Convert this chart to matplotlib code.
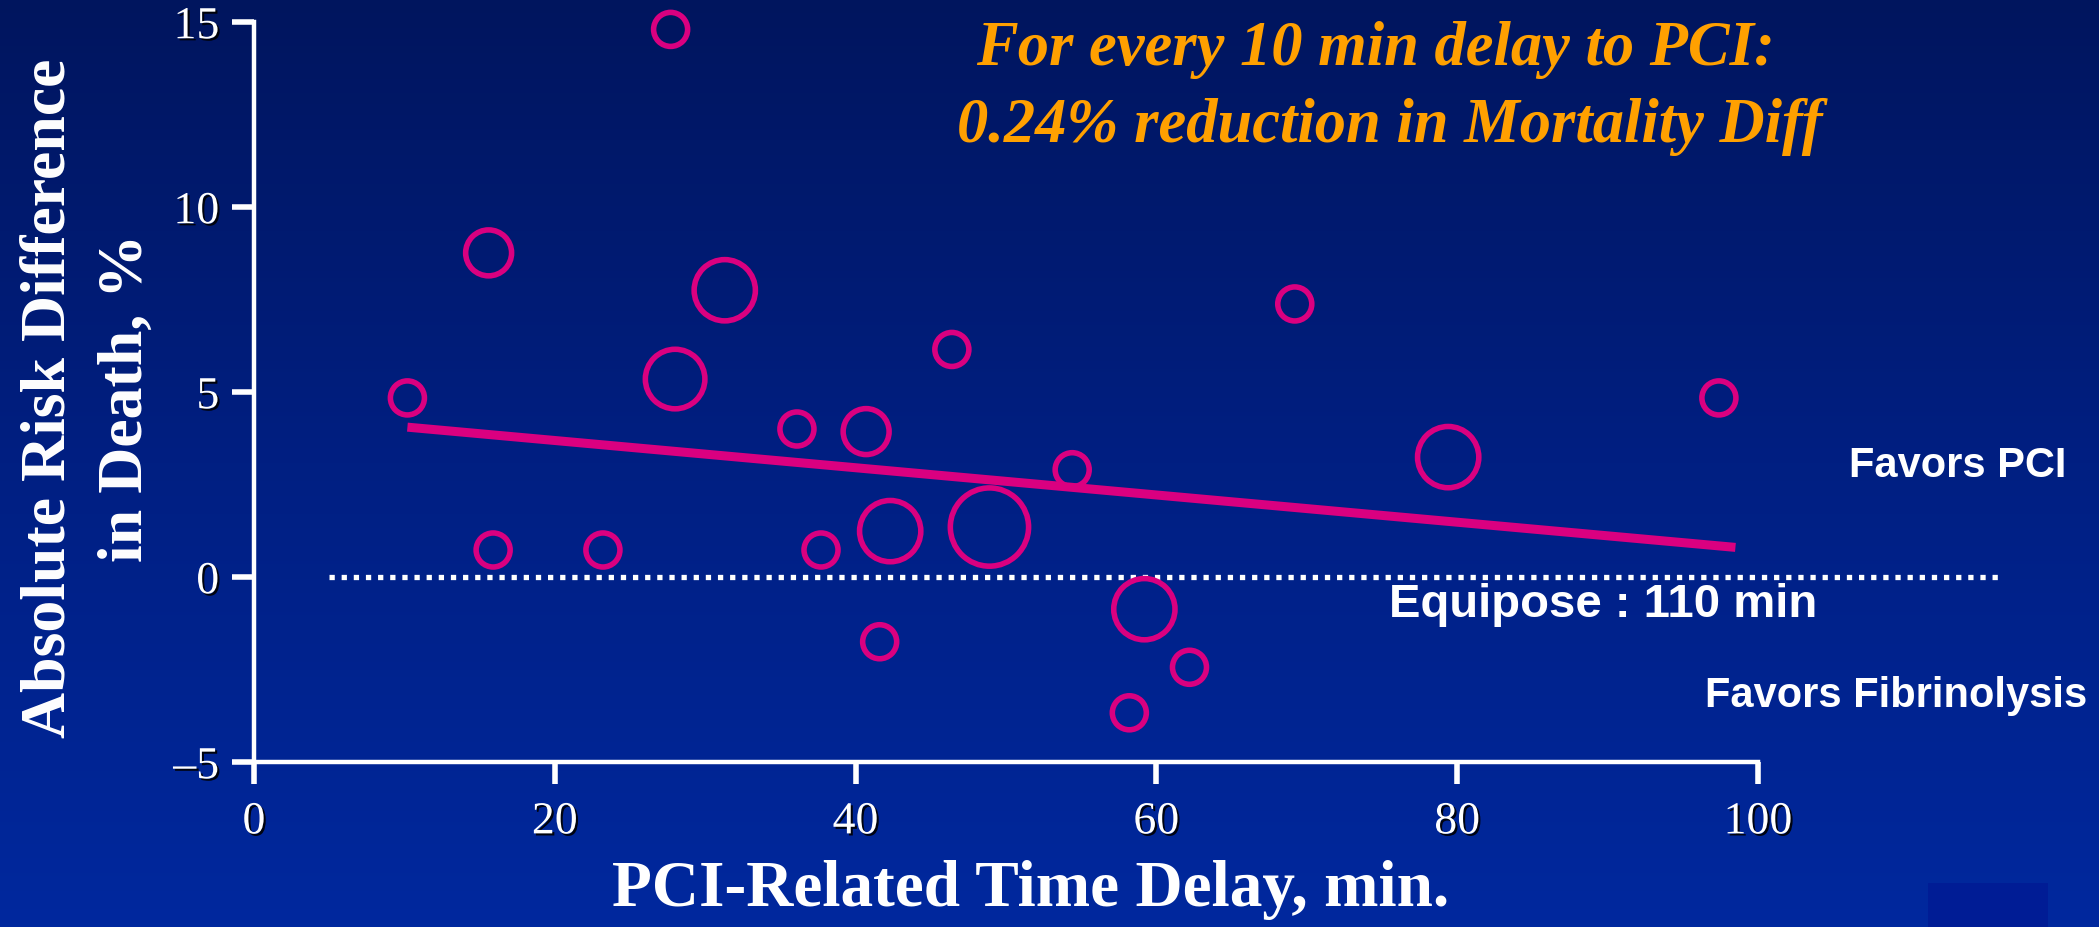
import matplotlib.pyplot as plt
import matplotlib.patheffects as pe
import numpy as np
from matplotlib.colors import LinearSegmentedColormap
from matplotlib.patches import Rectangle

# study-level data
delay_min = [10.2, 15.6, 15.9, 23.2, 27.7, 28.0, 31.3, 36.1, 37.7, 40.7, 41.6,
             42.3, 46.4, 48.9, 54.4, 58.2, 59.2, 62.2, 69.2, 79.4, 97.4]
risk_diff = [4.84, 8.76, 0.73, 0.73, 14.8, 5.35, 7.75, 4.0, 0.73, 3.93, -1.75,
             1.24, 6.15, 1.35, 2.9, -3.67, -0.87, -2.44, 7.38, 3.24, 4.84]
study_weight = [1.0, 1.35, 1.0, 1.0, 1.0, 1.75, 1.8, 1.0, 1.0, 1.35, 1.0,
                1.8, 1.0, 2.3, 1.0, 1.0, 1.8, 1.0, 1.0, 1.8, 1.0]

fit_x = [10.2, 98.5]
fit_y = [4.05, 0.8]
equipoise_x = [5.0, 116.0]
equipoise_y = [0.0, 0.0]

x_ticks = [0, 20, 40, 60, 80, 100]
y_ticks = [-5, 0, 5, 10, 15]
y_tick_labels = ["\u20135", "0", "5", "10", "15"]

MAGENTA = "#DA0080"
ORANGE = "#FFA000"
SERIF = ["Liberation Serif", "DejaVu Serif"]
SANS = ["Liberation Sans", "DejaVu Sans"]

fig = plt.figure(figsize=(20.99, 9.28), dpi=100)

# slide background: dark navy at the top fading to brighter blue
bg = fig.add_axes([0, 0, 1, 1], zorder=-10)
grad = np.linspace(0, 1, 256).reshape(-1, 1)
cmap = LinearSegmentedColormap.from_list("slide", ["#00155E", "#001F82", "#00289E"])
bg.imshow(grad, aspect="auto", cmap=cmap, extent=[0, 1, 0, 1], origin="upper")
bg.add_patch(Rectangle((1928 / 2099, 0), 120 / 2099, 44 / 928,
                       facecolor="#001C95", edgecolor="none"))
bg.axis("off")

ax = fig.add_axes([254 / 2099, 165 / 928, 1504 / 2099, 740 / 928])
ax.patch.set_alpha(0)

ax.plot(equipoise_x, equipoise_y, color="white", lw=3.8,
        linestyle=(0, (1.0, 1.3)), dash_capstyle="butt", clip_on=False, zorder=2)
ax.plot(fit_x, fit_y, color=MAGENTA, lw=6.5, solid_capstyle="butt", zorder=3)

sizes = [(24.5 * w) ** 2 for w in study_weight]
ax.scatter(delay_min, risk_diff, s=sizes, facecolors="none",
           edgecolors=MAGENTA, linewidths=4, clip_on=False, zorder=4)

ax.set_xlim(0, 100)
ax.set_ylim(-5, 15)
for side in ["top", "right"]:
    ax.spines[side].set_visible(False)
for side in ["left", "bottom"]:
    ax.spines[side].set_color("white")
    ax.spines[side].set_linewidth(3.2)

shadow = [pe.withSimplePatchShadow(offset=(1.5, -1.5), shadow_rgbFace="black", alpha=0.9)]
ax.set_xticks(x_ticks)
ax.set_xticklabels([str(t) for t in x_ticks])
ax.set_yticks(y_ticks)
ax.set_yticklabels(y_tick_labels)
ax.tick_params(axis="both", colors="white", length=16, width=4, labelsize=33)
ax.tick_params(axis="x", pad=12)
ax.tick_params(axis="y", pad=9)
for lab in ax.get_xticklabels() + ax.get_yticklabels():
    lab.set_family(SERIF)
    lab.set_path_effects(shadow)

# axis titles
fig.text(1031 / 2099, 1 - 890 / 928, "PCI-Related Time Delay, min.",
         ha="center", va="center", fontsize=47, fontweight="bold",
         family=SERIF, color="white")
fig.text(88 / 2099, 1 - 398 / 928, "Absolute Risk Difference\nin Death, %",
         ha="center", va="center", rotation=90, fontsize=46, fontweight="bold",
         family=SERIF, color="white", linespacing=1.45, multialignment="center")

# annotation text
fig.text(1375 / 2099, 1 - 50 / 928, "For every 10 min delay to PCI:",
         ha="center", va="center", fontsize=45, fontweight="bold",
         fontstyle="italic", family=SERIF, color=ORANGE)
fig.text(1390 / 2099, 1 - 127 / 928, "0.24% reduction in Mortality Diff",
         ha="center", va="center", fontsize=45, fontweight="bold",
         fontstyle="italic", family=SERIF, color=ORANGE)

fig.text(1958 / 2099, 1 - 466 / 928, "Favors PCI", ha="center", va="center",
         fontsize=30, fontweight="bold", family=SANS, color="white")
fig.text(1896 / 2099, 1 - 696 / 928, "Favors Fibrinolysis", ha="center", va="center",
         fontsize=30, fontweight="bold", family=SANS, color="white")
fig.text(1603 / 2099, 1 - 605 / 928, "Equipose : 110 min", ha="center", va="center",
         fontsize=34, fontweight="bold", family=SANS, color="white")

fig.savefig("out.png", dpi=100)
